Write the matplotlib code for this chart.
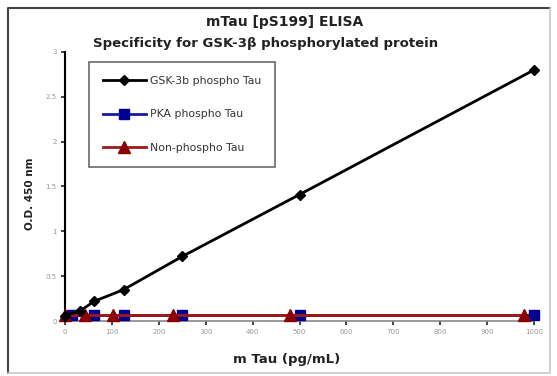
import matplotlib
matplotlib.use("Agg")
import matplotlib.pyplot as plt
from matplotlib.lines import Line2D

# concentrations (pg/mL) and optical densities for each tau preparation
gsk_conc = [0, 31.25, 62.5, 125, 250, 500, 1000]
gsk_od = [0.06, 0.11, 0.22, 0.35, 0.72, 1.41, 2.80]

pka_conc = [15, 62.5, 125, 250, 500, 1000]
pka_od = [0.07, 0.07, 0.07, 0.07, 0.07, 0.07]

non_conc = [0, 42, 102, 230, 480, 978]
non_od = [0.07, 0.07, 0.07, 0.07, 0.07, 0.07]

x_ticks = [0, 100, 200, 300, 400, 500, 600, 700, 800, 900, 1000]
y_ticks = [0, 0.5, 1, 1.5, 2, 2.5, 3]
y_ticklabels = ["0", "0.5", "1", "1.5", "2", "2.5", "3"]

W, H = 557, 376
plt.rcParams["font.family"] = ["DejaVu Sans"]

fig = plt.figure(figsize=(W / 100, H / 100), dpi=100)
ax = fig.add_axes([65 / W, 1 - 321 / H, (534 - 65) / W, (321 - 52) / H])

ax.plot(gsk_conc, gsk_od, color="black", lw=2, marker="D", ms=5.5,
        label="GSK-3b phospho Tau", clip_on=False, zorder=4)
ax.plot(pka_conc, pka_od, color="#1a1aa0", lw=2, marker="s", ms=7.5,
        mfc="#000090", mec="#000090", label="PKA phospho Tau",
        clip_on=False, zorder=3)
ax.plot(non_conc, non_od, color="#a01818", lw=2, marker="^", ms=8,
        mfc="#8b0000", mec="#8b0000", label="Non-phospho Tau",
        clip_on=False, zorder=3)

ax.set_xlim(0, 1000)
ax.set_ylim(0, 3)
ax.set_xticks(x_ticks)
ax.set_yticks(y_ticks)
ax.set_yticklabels(y_ticklabels)
ax.tick_params(labelsize=5, labelcolor="#999999", length=3, width=1.2,
               color="#222222", direction="out", pad=3)
for side in ("top", "right"):
    ax.spines[side].set_visible(False)
ax.spines["left"].set_linewidth(1.5)
ax.spines["bottom"].set_linewidth(1.2)
ax.spines["bottom"].set_color("#888888")

fig.text(285 / W, 1 - 22 / H, "mTau [pS199] ELISA", ha="center",
         va="center", fontsize=10, fontweight="bold", color="#222222")
fig.text(266 / W, 1 - 43 / H,
         "Specificity for GSK-3\u03b2 phosphorylated protein", ha="center",
         va="center", fontsize=9.5, fontweight="bold", color="#222222")
fig.text(30 / W, 1 - 194 / H, "O.D. 450 nm", rotation=90, ha="center",
         va="center", fontsize=7.5, fontweight="bold", color="#222222")
fig.text(287 / W, 1 - 359 / H, "m Tau (pg/mL)", ha="center", va="center",
         fontsize=9.5, fontweight="bold", color="#222222")

leg = fig.legend(loc="upper left", bbox_to_anchor=(89 / W, 1 - 62 / H),
                 borderaxespad=0, fontsize=7.8, handlelength=4.0,
                 labelspacing=2.2, handletextpad=0.4, borderpad=1.25,
                 fancybox=False, frameon=True)
leg.get_frame().set_edgecolor("#444444")
leg.get_frame().set_linewidth(1.2)
for t in leg.get_texts():
    t.set_color("#333333")

# chart-area border: dark on top/left, lighter on bottom/right
x0, x1 = 8 / W, 550 / W
y0, y1 = 1 - 373 / H, 1 - 8 / H
fig.add_artist(Line2D([x0, x0, x1], [y0, y1, y1], color="#444444", lw=1.5))
fig.add_artist(Line2D([x0, x1, x1], [y0, y0, y1], color="#c8c8c8", lw=1.2))

fig.savefig("out.png", dpi=100)
